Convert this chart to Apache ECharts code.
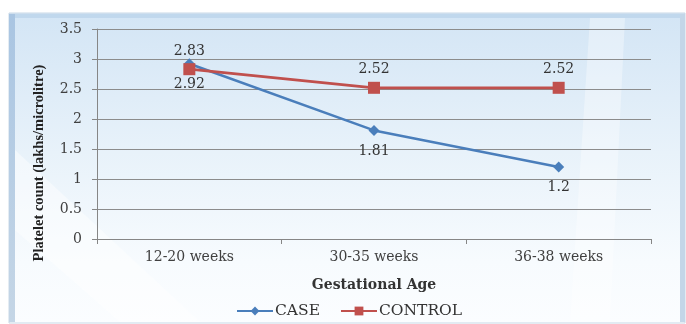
<!DOCTYPE html>
<html>
<head>
<meta charset="utf-8">
<script src="https://cdn.jsdelivr.net/npm/echarts@6/dist/echarts.min.js"></script>
<style>
  html, body { margin: 0; padding: 0; background: #ffffff; }
  #chart { width: 686px; height: 324px; }
</style>
</head>
<body>
<div id="chart"></div>
<script>
// Gestational age groups along the x axis
const categories = ['12-20 weeks', '30-35 weeks', '36-38 weeks'];
// Mean platelet count (lakhs/microlitre)
const caseValues = [2.92, 1.81, 1.2];
const controlValues = [2.83, 2.52, 2.52];
// Value axis ticks
const yTicks = [0, 0.5, 1, 1.5, 2, 2.5, 3, 3.5];

const wideSerif = '"DejaVu Serif", "Liberation Serif", serif';
const serif = '"Liberation Serif", "DejaVu Serif", serif';
const chart = echarts.init(document.getElementById('chart'), null, { renderer: 'canvas' });

chart.setOption({
  backgroundColor: '#ffffff',
  animation: false,
  graphic: [
    // framed panel with a pale blue wash fading to white
    {
      type: 'rect', z: -10, silent: true,
      shape: { x: 9, y: 13, width: 676, height: 310 },
      style: {
        fill: new echarts.graphic.LinearGradient(0, 0, 0, 1, [
          { offset: 0, color: '#d3e5f5' },
          { offset: 0.45, color: '#e8f2fa' },
          { offset: 0.8, color: '#f7fbfe' },
          { offset: 1, color: '#fbfdff' }
        ]),
        stroke: '#c9d8e6', lineWidth: 1
      }
    },
    // top bevel
    {
      type: 'rect', z: -9, silent: true,
      shape: { x: 10, y: 14, width: 674, height: 4 },
      style: { fill: '#bcd4eb', opacity: 0.8 }
    },
    // left edge strip
    {
      type: 'rect', z: -9, silent: true,
      shape: { x: 9, y: 14, width: 6, height: 308 },
      style: {
        fill: new echarts.graphic.LinearGradient(0, 0, 0, 1, [
          { offset: 0, color: '#a9c5e2' },
          { offset: 1, color: '#c5d6e6' }
        ])
      }
    },
    // right edge strip
    {
      type: 'rect', z: -9, silent: true,
      shape: { x: 680, y: 14, width: 5, height: 308 },
      style: { fill: '#c3d6e8' }
    },
    // soft diagonal highlight on the left
    {
      type: 'polygon', z: -8, silent: true,
      shape: { points: [[15, 150], [15, 230], [120, 322], [200, 322]] },
      style: { fill: 'rgba(255,255,255,0.45)' }
    },
    // light vertical sheen on the right
    {
      type: 'polygon', z: -8, silent: true,
      shape: { points: [[590, 18], [625, 18], [610, 322], [570, 322]] },
      style: { fill: 'rgba(255,255,255,0.35)' }
    }
  ],
  grid: { left: 97, right: 35, top: 29, bottom: 85, containLabel: false },
  legend: {
    top: 298,
    left: 231,
    itemWidth: 36,
    itemHeight: 11,
    itemGap: 20,
    textStyle: { fontFamily: wideSerif, fontSize: 15.5, color: '#333', padding: [0, 0, 0, -3] },
    data: ['CASE', 'CONTROL']
  },
  xAxis: {
    type: 'category',
    data: categories,
    boundaryGap: true,
    name: 'Gestational Age',
    nameLocation: 'middle',
    nameGap: 39,
    nameTextStyle: { fontFamily: wideSerif, fontSize: 14, fontWeight: 'bold', color: '#333' },
    axisLine: { lineStyle: { color: '#868686', width: 1 } },
    axisTick: { show: true, length: 5, lineStyle: { color: '#868686' } },
    axisLabel: { fontFamily: wideSerif, fontSize: 14, color: '#404040', margin: 11 },
    splitLine: { show: false }
  },
  yAxis: {
    type: 'value',
    min: yTicks[0],
    max: yTicks[yTicks.length - 1],
    interval: yTicks[1] - yTicks[0],
    name: 'Platelet count (lakhs/microlitre)',
    nameLocation: 'middle',
    nameGap: 50,
    nameTextStyle: { fontFamily: serif, fontSize: 14.5, fontWeight: 'bold', color: '#222', padding: [0, 58, 0, 0] },
    axisLine: { show: true, lineStyle: { color: '#868686', width: 1 } },
    axisTick: { show: true, length: 5, lineStyle: { color: '#868686' } },
    axisLabel: { fontFamily: wideSerif, fontSize: 14, color: '#404040', margin: 15 },
    splitLine: { show: true, lineStyle: { color: '#8c8c8c', width: 1 } }
  },
  series: [
    {
      name: 'CASE',
      type: 'line',
      data: caseValues,
      symbol: 'diamond',
      symbolSize: 11,
      itemStyle: { color: '#4a7ebb' },
      lineStyle: { color: '#4a7ebb', width: 2.5 },
      label: {
        show: true, position: 'bottom', distance: 8,
        fontFamily: wideSerif, fontSize: 14, color: '#333'
      },
      z: 3
    },
    {
      name: 'CONTROL',
      type: 'line',
      data: controlValues,
      symbol: 'rect',
      symbolSize: 12,
      itemStyle: { color: '#c0504d' },
      lineStyle: { color: '#c0504d', width: 2.8 },
      label: {
        show: true, position: 'top', distance: 5,
        fontFamily: wideSerif, fontSize: 14, color: '#333'
      },
      z: 4
    }
  ]
});
</script>
</body>
</html>
